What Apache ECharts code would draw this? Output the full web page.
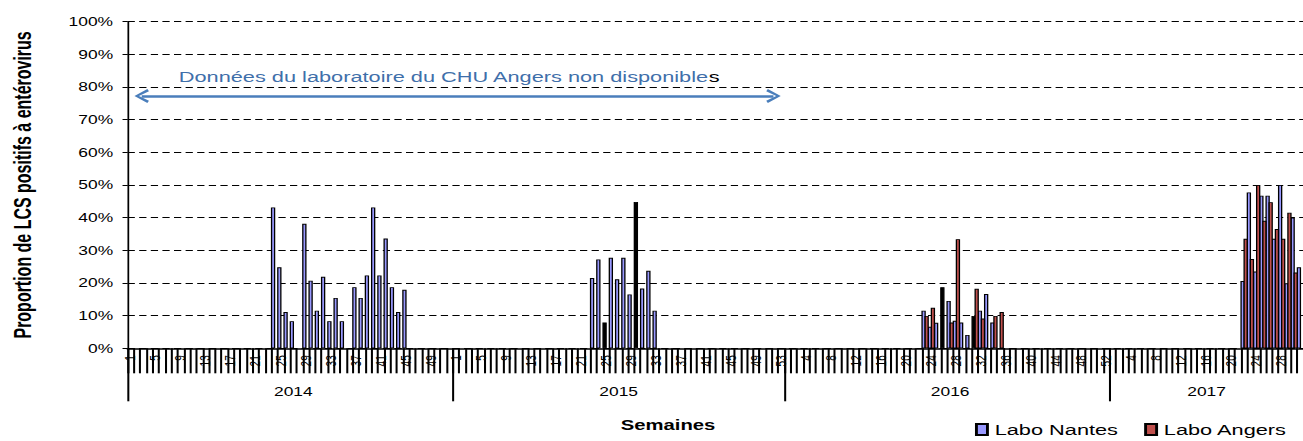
<!DOCTYPE html>
<html>
<head>
<meta charset="utf-8">
<title>LCS positifs à entérovirus</title>
<script src="https://cdn.jsdelivr.net/npm/echarts@6/dist/echarts.min.js"></script>
<style>
  html, body { margin: 0; padding: 0; background: #fff; overflow: hidden; }
  /* the original picture is stretched sideways: draw narrow, then widen */
  #chart { width: 899px; height: 441px; transform: scaleX(1.45); transform-origin: 0 0; }
</style>
</head>
<body>
<div id="chart"></div>
<script>
const years = ['2014', '2015', '2016', '2017'];
const weeksPerYear = [52, 53, 52, 31];

// % de LCS positifs, semaines consécutives (1re semaine en commentaire)
const nantes2014 = [43.1, 24.8, 11.1, 8.3, null, 38.1, 20.7, 11.5, 21.9, 8.3, 15.4, 8.3, null,
  18.7, 15.4, 22.3, 43.1, 22.3, 33.6, 18.7, 11.1, 17.9];            // S24
const nantes2015 = [21.5, 27.2, 7.9, 27.7, 21.1, 27.7, 16.5, 44.8, 18.3, 23.7, 11.5]; // S23
const nantes2016 = [11.5, 6.6, 7.8, 18.7, 14.5, 8.4, 7.9, 4.1, 9.9, 11.5, 16.6, 7.9]; // S23
const nantes2017 = [20.6, 47.7, 23.5, 46.7, 46.7, 33.5, 50, 19.9, 40, 24.8];         // S22
const angers2016 = [9.9, 12.4, null, null, 7.9, 33.4, null, null, 18.2, 9.1, null, 9.9, 11.1]; // S23
const angers2017 = [33.5, 27.3, 50, 39, 44.7, 36.5, 33.5, 41.5, 23.2];                // S22

const FONT = '"Liberation Sans", Arial, sans-serif';

const categories = [];
years.forEach((y, i) => {
  for (let w = 1; w <= weeksPerYear[i]; w++) categories.push(y + '-' + w);
});

function place(target, year, week, values) {
  const start = categories.indexOf(year + '-' + week);
  values.forEach((v, i) => { target[start + i] = v; });
}

const nantes = categories.map(() => null);
const angers = categories.map(() => null);
place(nantes, '2014', 24, nantes2014);
place(nantes, '2015', 23, nantes2015);
place(nantes, '2016', 23, nantes2016);
place(nantes, '2017', 22, nantes2017);
place(angers, '2016', 23, angers2016);
place(angers, '2017', 22, angers2017);

// bars that show up black in the original
const blackBars = ['2015-25', '2015-30', '2016-26', '2016-31'];

const yearStarts = [];
const yearMiddles = [];
let acc = 0;
weeksPerYear.forEach(n => {
  yearStarts.push(acc);
  yearMiddles.push(acc + Math.floor(n / 2));
  acc += n;
});

const chevron = 'path://M5,0 L10,8 L8.4,9 L5,2.8 L1.6,9 L0,8 Z';

const chart = echarts.init(document.getElementById('chart'), null, { renderer: 'svg' });

chart.setOption({
  animation: false,
  textStyle: { fontFamily: FONT },
  grid: { left: 84.14, top: 21.5, width: 815.9, height: 326.8 },
  legend: {
    left: 672.4,
    top: 422,
    padding: 0,
    icon: 'rect',
    itemWidth: 7.6,
    itemHeight: 11,
    itemGap: 18,
    textStyle: { fontSize: 15, color: '#000', fontFamily: FONT },
    data: ['Labo Nantes', 'Labo Angers']
  },
  graphic: [{
    type: 'text',
    x: 460.7,
    y: 425,
    style: {
      text: 'Semaines',
      align: 'center',
      verticalAlign: 'middle',
      fontSize: 14,
      fontWeight: 'bold',
      fontFamily: FONT,
      fill: '#000'
    }
  }],
  xAxis: [
    {
      type: 'category',
      data: categories,
      position: 'bottom',
      axisLine: { show: true, lineStyle: { color: '#000', width: 1.5 } },
      axisTick: { show: true, interval: 0, length: 25, lineStyle: { color: '#000', width: 1.4 } },
      axisLabel: {
        show: true,
        interval: 3,
        rotate: 90,
        margin: 7,
        fontSize: 10,
        color: '#000',
        fontFamily: FONT,
        formatter: v => v.split('-')[1]
      },
      splitLine: { show: false }
    },
    {
      type: 'category',
      data: categories,
      position: 'bottom',
      axisLine: { show: false },
      axisTick: {
        show: true,
        interval: i => yearStarts.includes(i),
        length: 53,
        lineStyle: { color: '#000', width: 1.4 }
      },
      axisLabel: {
        show: true,
        interval: i => yearMiddles.includes(i),
        margin: 37,
        fontSize: 12,
        color: '#000',
        fontFamily: FONT,
        formatter: v => v.split('-')[0]
      },
      splitLine: { show: false }
    }
  ],
  yAxis: {
    type: 'value',
    min: 0,
    max: 100,
    interval: 10,
    name: 'Proportion de LCS positifs à entérovirus',
    nameLocation: 'middle',
    nameGap: 64,
    nameTextStyle: { fontSize: 16, fontWeight: 'bold', color: '#000', fontFamily: FONT },
    axisLine: { show: true, lineStyle: { color: '#000', width: 1.2 } },
    axisTick: { show: true, length: 3.5, lineStyle: { color: '#000' } },
    axisLabel: { formatter: '{value}%', fontSize: 12, margin: 10, color: '#000', fontFamily: FONT },
    splitLine: { lineStyle: { color: '#000', width: 1, type: [5, 3] } }
  },
  series: [
    {
      name: 'Labo Nantes',
      type: 'bar',
      xAxisIndex: 0,
      barWidth: 3,
      barGap: '-30%',
      itemStyle: { color: '#9999FF', borderColor: '#000', borderWidth: 0.9 },
      emphasis: { disabled: true },
      data: nantes.map((v, i) => (v != null && blackBars.includes(categories[i]))
        ? { value: v, itemStyle: { color: '#000' } } : v),
      markLine: {
        silent: true,
        symbol: [chevron, chevron],
        symbolSize: [14, 10],
        lineStyle: { color: '#4A7EBB', width: 2.5, type: 'solid' },
        emphasis: { disabled: true },
        label: {
          show: true,
          position: 'insideMiddleTop',
          distance: 12,
          padding: [0, 12, 0, 0],
          formatter: '{a|Données du laboratoire du CHU Angers non disponible}{b|s}',
          rich: {
            a: { color: '#3F6FAA', fontSize: 15, fontFamily: FONT },
            b: { color: '#000', fontSize: 15, fontFamily: FONT }
          }
        },
        data: [[{ coord: ['2014-3', 77.2] }, { coord: ['2015-52', 77.2] }]]
      }
    },
    {
      name: 'Labo Angers',
      type: 'bar',
      xAxisIndex: 0,
      barWidth: 3,
      barGap: '-30%',
      itemStyle: { color: '#C0504D', borderColor: '#000', borderWidth: 0.9 },
      emphasis: { disabled: true },
      data: angers
    }
  ]
});
</script>
</body>
</html>
